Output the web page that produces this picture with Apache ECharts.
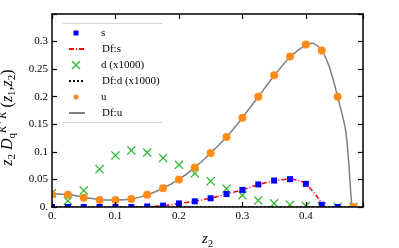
<!DOCTYPE html>
<html><head><meta charset="utf-8">
<script src="https://cdn.jsdelivr.net/npm/echarts@6/dist/echarts.min.js"></script>
<style>html,body{margin:0;padding:0;background:#fff}#c{width:399px;height:248px}</style>
</head><body><div id="c"></div>
<script>
// ---- data ----
var zPts = [0,0.025,0.05,0.075,0.1,0.125,0.15,0.175,0.2,0.225,0.25,0.275,0.3,0.325,0.35,0.375,0.4,0.425,0.45,0.475];
var sVals = [0,0,0,0,0,0,0.001,0.0025,0.0065,0.0103,0.0158,0.0235,0.031,0.041,0.048,0.0505,0.042,0.004,0,null];
var dVals = [0.025,0.011,0.0297,0.0687,0.0935,0.1026,0.099,0.089,0.0765,0.061,0.0468,0.0333,0.0213,0.012,0.0067,0.004,0.002,0.001,0.0005,0.0002];
var uVals = [0.023,0.022,0.017,0.0128,0.0125,0.0145,0.022,0.034,0.050,0.0716,0.098,0.127,0.162,0.200,0.239,0.273,0.2945,0.2836,0.200,0];
var dfsX = [0.13,0.15,0.175,0.2,0.225,0.25,0.275,0.3,0.325,0.35,0.375,0.39,0.4,0.4175,0.425,0.428];
var dfsY = [0,0.0006,0.0025,0.0062,0.0105,0.016,0.0235,0.031,0.0405,0.0475,0.0505,0.0475,0.042,0.019,0.0055,0];
var dfdX = [0,0.1,0.2,0.3,0.4,0.475];
var dfdY = [0,0,0,0,0,0];
var dfuX = [0,0.025,0.05,0.075,0.1,0.125,0.15,0.175,0.2,0.225,0.25,0.275,0.3,0.325,0.35,0.375,0.4,0.41,0.425,0.4375,0.45,0.4625,0.4675,0.4705,0.4725];
var dfuY = [0.024,0.0225,0.018,0.0135,0.0125,0.0145,0.022,0.034,0.050,0.0715,0.098,0.127,0.162,0.200,0.238,0.272,0.294,0.297,0.284,0.252,0.200,0.140,0.080,0.030,0];
var xTickLabels = ['0.','0.1','0.2','0.3','0.4'];
var yTickLabels = ['0.','0.05','0.1','0.15','0.2','0.25','0.3'];
var names = ['s','Df:s','d (x1000)','Df:d (x1000)','u','Df:u'];

function pairs(xs, ys){ var o=[]; for(var i=0;i<xs.length;i++){ if(ys[i]!==null) o.push([xs[i], ys[i]]); } return o; }

var FONT = 'Liberation Serif';
var chart = echarts.init(document.getElementById('c'), null, {renderer:'canvas'});
var XPATH = 'path://M0,1L1,0L5,4L9,0L10,1L6,5L10,9L9,10L5,6L1,10L0,9L4,5Z';

var rowCenters = [33, 49, 65, 81, 97, 113];
var iconW = [5, 16, 9, 16, 5, 16];
var iconH = [5, 6, 9, 6, 5, 6];
var isLine = [false, true, false, true, false, true];
var legends = names.map(function(n, i){
  var left = 76 - iconW[i]/2;
  var textStart = 101;
  var pad = textStart - (left + iconW[i] + 5);
  var lg = {
    data:[n], orient:'vertical', left:left, top: rowCenters[i]-6, padding:0,
    itemWidth:iconW[i], itemHeight:iconH[i], itemGap:0,
    textStyle:{fontFamily:FONT, fontSize:11, color:'#000', lineHeight:12, padding:[0,0,0,pad]},
    selectedMode:false
  };
  if (isLine[i]) lg.itemStyle = {color:'rgba(0,0,0,0)', borderWidth:0, opacity:0};
  return lg;
});

var axisCommon = {
  type:'value', z:10,
  axisLine:{show:true, onZero:false, lineStyle:{color:'#000', width:1.5}},
  axisTick:{show:true, inside:true, length:5, lineStyle:{color:'#000', width:1.2}},
  splitLine:{show:false}
};

var option = {
  animation:false,
  grid:{left:52, right:36, top:14, bottom:41, outerBoundsMode:'none', containLabel:false},
  legend: legends,
  xAxis:[
    Object.assign({}, axisCommon, {
      min:0, max:0.49, interval:0.1, position:'bottom',
      axisLabel:{margin:4, fontFamily:FONT, fontSize:11, color:'#000',
        formatter:function(v){ var k=Math.round(v/0.1); return (Math.abs(v-k*0.1)<1e-6 && xTickLabels[k]) ? xTickLabels[k] : ''; }},
      name:'{i|z}{b|2}', nameLocation:'middle', nameGap:22,
      nameTextStyle:{fontFamily:FONT, fontSize:15, color:'#000',
        rich:{i:{fontFamily:FONT, fontSize:15, fontStyle:'italic', lineHeight:20},
              b:{fontFamily:FONT, fontSize:10, verticalAlign:'bottom'}}}
    }),
    Object.assign({}, axisCommon, {
      min:0, max:0.49, interval:0.1, position:'top', axisLabel:{show:false}
    })
  ],
  yAxis:[
    Object.assign({}, axisCommon, {
      min:0, max:0.35, interval:0.05, position:'left',
      axisLabel:{margin:4, fontFamily:FONT, fontSize:11, color:'#000',
        formatter:function(v){ var k=Math.round(v/0.05); return (Math.abs(v-k*0.05)<1e-6 && yTickLabels[k]) ? yTickLabels[k] : ''; }},
      name:'{i|z}{b|2} {i|D}{b|q}{t|K⁺ K⁻}{n|(}{i|z}{b|1}{n|,}{i|z}{b|2}{n|)}',
      nameLocation:'middle', nameRotate:90, nameGap:32,
      nameTextStyle:{fontFamily:FONT, fontSize:16, color:'#000', padding:[0,14,0,0],
        rich:{i:{fontFamily:FONT, fontSize:16, fontStyle:'italic', lineHeight:20},
              n:{fontFamily:FONT, fontSize:16, lineHeight:20},
              b:{fontFamily:FONT, fontSize:11, verticalAlign:'bottom'},
              t:{fontFamily:FONT, fontSize:11, fontStyle:'italic', verticalAlign:'top'}}}
    }),
    Object.assign({}, axisCommon, {
      min:0, max:0.35, interval:0.05, position:'right', axisLabel:{show:false}
    })
  ],
  graphic:[
    {type:'rect', z:5, shape:{x:0, y:207, width:399, height:41}, style:{fill:'#fff'}, silent:true},
    {type:'rect', z:5, shape:{x:0, y:0, width:52, height:248}, style:{fill:'#fff'}, silent:true},
    {type:'line', z:5, shape:{x1:63, y1:23.5, x2:162, y2:23.5}, style:{stroke:'#d3d3d3', lineWidth:1}},
    {type:'line', z:5, shape:{x1:63, y1:122.5, x2:162, y2:122.5}, style:{stroke:'#d3d3d3', lineWidth:1}}
  ],
  series:[
    {name:names[1], type:'line', z:2, data:pairs(dfsX, dfsY), symbol:'none', smooth:0.3,
      lineStyle:{color:'#ff0000', width:1.5, type:[5,2,1,2]}, itemStyle:{color:'#ff0000'}},
    {name:names[3], type:'line', z:2, data:pairs(dfdX, dfdY), symbol:'none',
      lineStyle:{color:'#000', width:1.5, type:[2,2]}, itemStyle:{color:'#000'}},
    {name:names[5], type:'line', z:2, data:pairs(dfuX, dfuY), symbol:'none', smooth:0.3,
      lineStyle:{color:'#808080', width:1.5}, itemStyle:{color:'#808080'}},
    {name:names[2], type:'scatter', z:3, data:pairs(zPts, dVals), symbol:XPATH, symbolSize:9,
      itemStyle:{color:'#2fb82f', opacity:1}},
    {name:names[4], type:'scatter', z:3, data:pairs(zPts, uVals), symbol:'circle', symbolSize:8,
      itemStyle:{color:'#ff8c1a', opacity:1}},
    {name:names[0], type:'scatter', z:4, data:pairs(zPts, sVals), symbol:'rect', symbolSize:6,
      itemStyle:{color:'#0000ff', opacity:1}}
  ]
};
chart.setOption(option);
</script>
</body></html>
